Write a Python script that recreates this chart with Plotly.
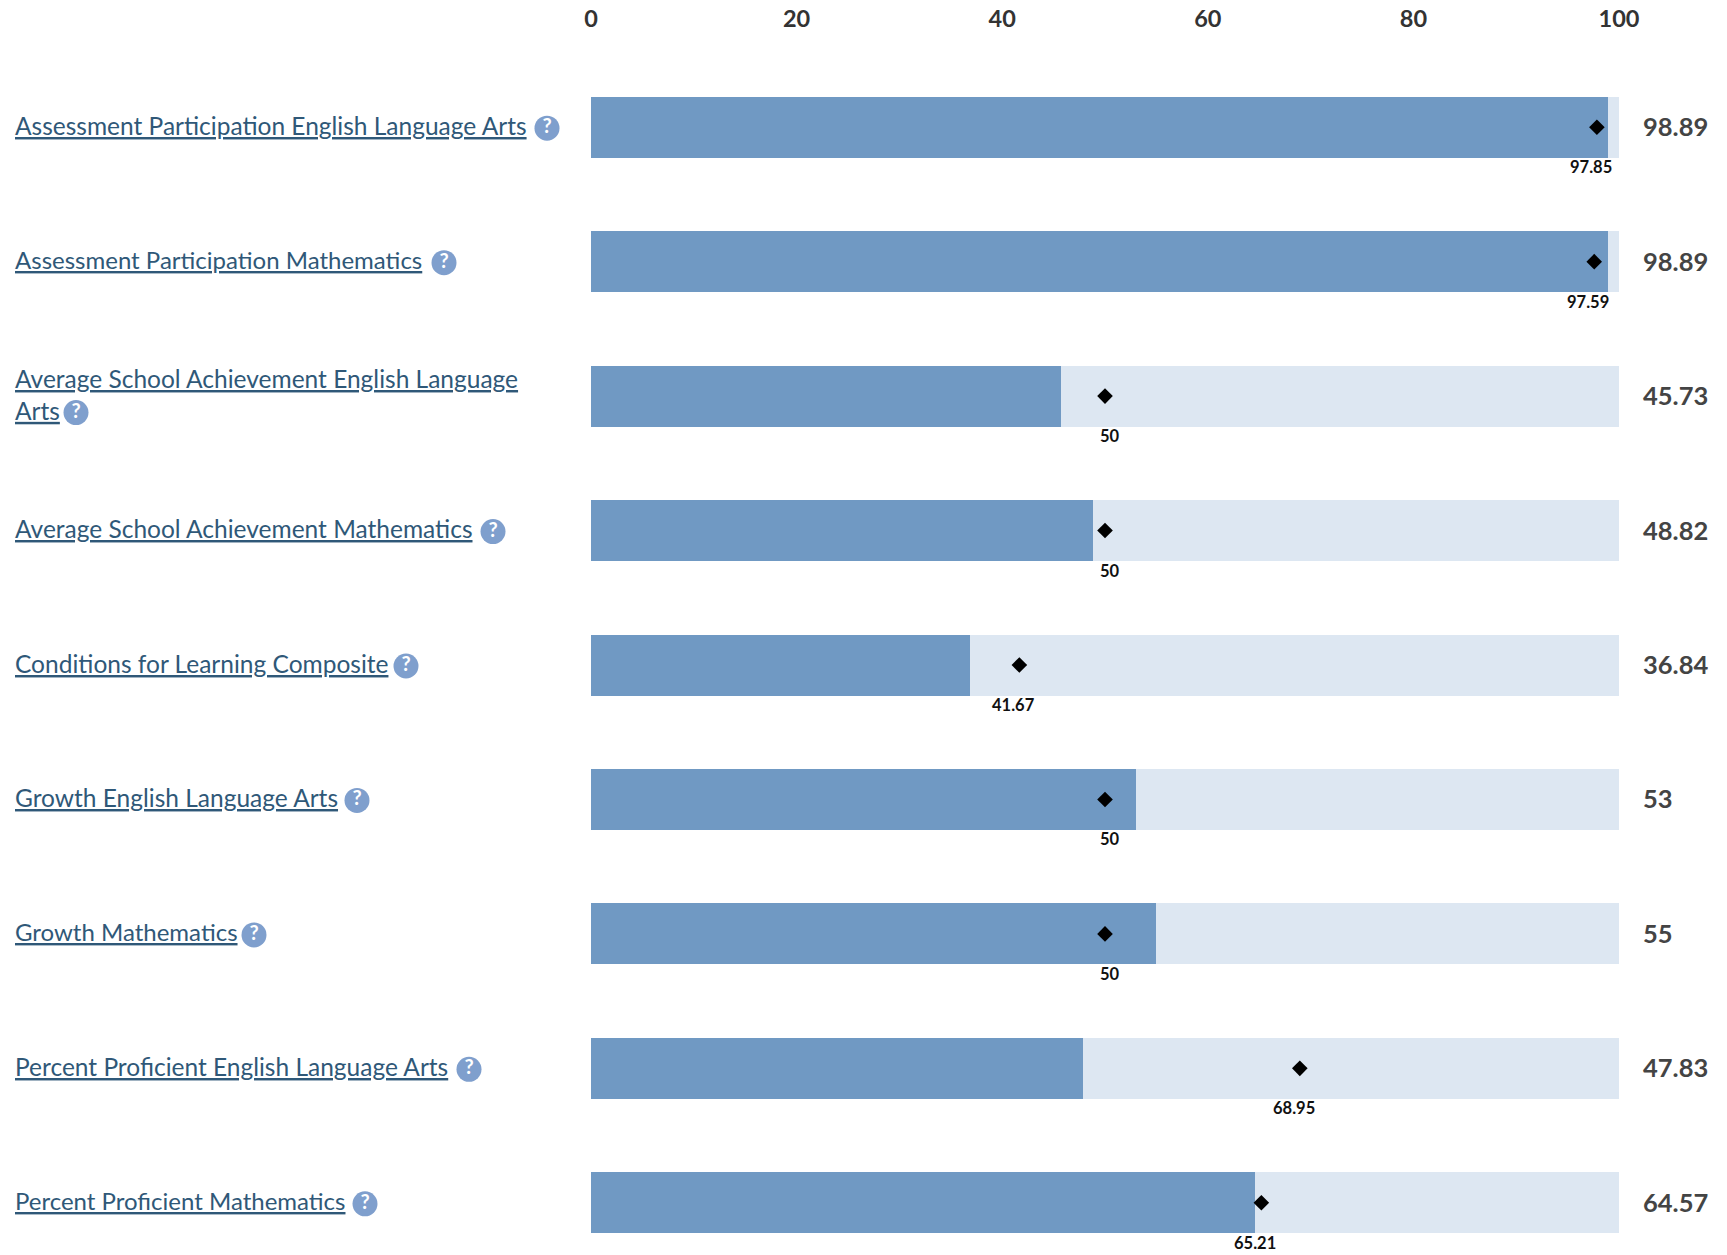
import plotly.graph_objects as go

categories = [
    "Assessment Participation English Language Arts",
    "Assessment Participation Mathematics",
    "Average School Achievement English Language<br>Arts",
    "Average School Achievement Mathematics",
    "Conditions for Learning Composite",
    "Growth English Language Arts",
    "Growth Mathematics",
    "Percent Proficient English Language Arts",
    "Percent Proficient Mathematics",
]
scores = [98.89, 98.89, 45.73, 48.82, 36.84, 53, 55, 47.83, 64.57]
score_labels = ["98.89", "98.89", "45.73", "48.82", "36.84", "53", "55", "47.83", "64.57"]
targets = [97.85, 97.59, 50, 50, 41.67, 50, 50, 68.95, 65.21]
target_labels = ["97.85", "97.59", "50", "50", "41.67", "50", "50", "68.95", "65.21"]
full_scale = [100] * 9
x_ticks = [0, 20, 40, 60, 80, 100]

W, H = 1727, 1255
X0, X100 = 591, 1619
ROW_H, FIRST_ROW, TOP = 134.45, 127.2, 33
rows = list(range(len(categories)))
y_range = [(H - FIRST_ROW) / ROW_H, (TOP - FIRST_ROW) / ROW_H]

# Pixel position of the help icon that follows each label
help_px = [547, 444, 76, 493, 406, 357, 254, 469, 365]
help_dy = [1, 1, 16.5, 1, 1, 1, 1, 1, 1]
help_rows = [r + d / ROW_H for r, d in zip(rows, help_dy)]
label_sizes = [24.5, 24, 24.5, 24.5, 24.5, 24.5, 24, 24.5, 24]

BAR_W = 61 / ROW_H
LINK = "#2f5878"
FONT = "Lato"

fig = go.Figure()
fig.add_trace(go.Bar(y=rows, x=full_scale, orientation="h", width=BAR_W,
                     marker=dict(color="#dde7f2", line_width=0), hoverinfo="skip"))
fig.add_trace(go.Bar(y=rows, x=scores, orientation="h", width=BAR_W,
                     marker=dict(color="#7099c3", line_width=0)))
fig.add_trace(go.Scatter(y=rows, x=targets, mode="markers",
                         marker=dict(symbol="diamond", size=12, color="#000000")))
fig.add_trace(go.Scatter(y=help_rows, x=help_px, xaxis="x2", yaxis="y", mode="markers+text",
                         text=["?"] * len(rows), textposition="middle center",
                         textfont=dict(family=FONT, size=20, color="#ffffff", weight=700),
                         marker=dict(symbol="circle", size=25, color="#7f9fcd"),
                         hoverinfo="skip"))

annotations = []
for r, cat, size in zip(rows, categories, label_sizes):
    annotations.append(dict(x=13 / W, y=r, xref="paper", yref="y", xanchor="left", yanchor="middle",
                            align="left", showarrow=False, yshift=2,
                            text="<br>".join(f"<u>{p}</u>" for p in cat.split("<br>")),
                            font=dict(family=FONT, size=size, color=LINK)))
for r, lab in zip(rows, score_labels):
    annotations.append(dict(x=100, y=r, xref="x", yref="y", xanchor="left", yanchor="middle",
                            xshift=22, yshift=1, showarrow=False, text=lab,
                            font=dict(family=FONT, size=25.5, color="#444444", weight=700)))
for r, t, lab in zip(rows, targets, target_labels):
    annotations.append(dict(x=t, y=r, xref="x", yref="y", xanchor="center", yanchor="middle",
                            xshift=5 if t == 50 else -6, yshift=-40, showarrow=False, text=lab,
                            font=dict(family=FONT, size=16.5, color="#111111", weight=700)))

fig.update_layout(
    width=W, height=H, autosize=False, showlegend=False, barmode="overlay",
    paper_bgcolor="#ffffff", plot_bgcolor="rgba(0,0,0,0)", bargap=0,
    margin=dict(l=0, r=0, t=TOP, b=0, pad=0, autoexpand=False),
    xaxis=dict(domain=[X0 / W, X100 / W], range=[0, 100], side="top", tickvals=x_ticks,
               showgrid=False, zeroline=False, showline=False, ticks="",
               tickfont=dict(family=FONT, size=23.5, color="#333333", weight=700)),
    xaxis2=dict(domain=[0, 1], range=[0, W], anchor="y", visible=False),
    yaxis=dict(range=y_range, visible=False),
    annotations=annotations,
)
fig.write_html("out.html", config={"displayModeBar": False},
               post_script="document.body.style.margin='0';document.body.style.overflow='hidden';")
